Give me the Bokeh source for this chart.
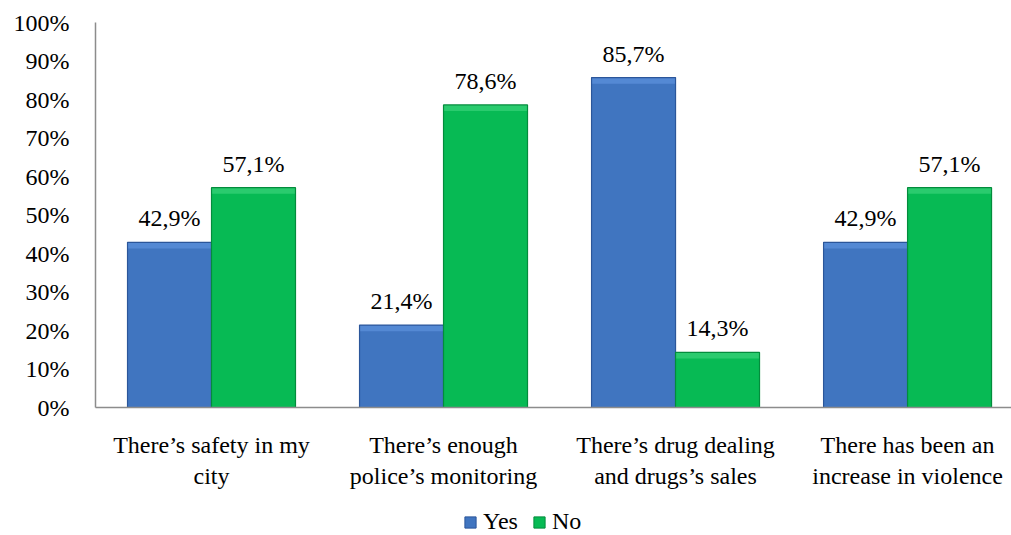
from bokeh.plotting import figure
from bokeh.layouts import column
from bokeh.models import Range1d, FixedTicker, ColumnDataSource, Legend, LegendItem, LabelSet
from bokeh.embed import file_html
from bokeh.resources import INLINE

categories = [
    "There\u2019s safety in my\ncity",
    "There\u2019s enough\npolice\u2019s monitoring",
    "There\u2019s drug dealing\nand drugs\u2019s sales",
    "There has been an\nincrease in violence",
]
series_names = ["Yes", "No"]
yes_values = [42.9, 21.4, 85.7, 42.9]
no_values = [57.1, 78.6, 14.3, 57.1]
y_ticks = [0, 10, 20, 30, 40, 50, 60, 70, 80, 90, 100]

FONT = "Liberation Serif"
BAR_W = 0.362
BEVEL = 1.6  # height of the lighter top band, in % units
YES_FILL, YES_LINE, YES_TOP = "#4075C0", "#2B569A", "#5489D4"
NO_FILL, NO_LINE, NO_TOP = "#07BA54", "#038C3C", "#2ACB6E"
centers = [i + 0.5 for i in range(len(categories))]


def fmt(v):
    return ("%.1f" % v).replace(".", ",") + "%"


def make_src(values, offset):
    return ColumnDataSource(dict(
        left=[c + offset for c in centers], right=[c + offset + BAR_W for c in centers],
        top=values, bottom=[0] * len(centers),
        band=[v - BEVEL for v in values],
        x=[c + offset + BAR_W / 2 for c in centers],
        label=[fmt(v) for v in values]))


yes_src = make_src(yes_values, -BAR_W)
no_src = make_src(no_values, 0.0)

p = figure(width=1011, height=500, output_backend="svg", toolbar_location=None,
           x_range=Range1d(0, 3.948), y_range=Range1d(0, 100),
           min_border_left=95, min_border_right=0, min_border_top=22, min_border_bottom=93)
p.outline_line_color = None
p.xgrid.visible = False
p.ygrid.visible = False

for src, fill, line, topc in ((yes_src, YES_FILL, YES_LINE, YES_TOP),
                              (no_src, NO_FILL, NO_LINE, NO_TOP)):
    p.quad(left="left", right="right", top="top", bottom="bottom", source=src,
           fill_color=fill, line_color=None)
    p.quad(left="left", right="right", top="top", bottom="band", source=src,
           fill_color=topc, line_color=None)
    p.quad(left="left", right="right", top="top", bottom="bottom", source=src,
           fill_color=None, line_color=line, line_width=1.2)
    p.add_layout(LabelSet(x="x", y="top", text="label", source=src, text_align="center",
                          text_baseline="alphabetic", y_offset=16, text_font=FONT,
                          text_font_size="24px", text_color="black"))

p.xaxis.ticker = FixedTicker(ticks=centers)
p.xaxis.major_label_overrides = {c: lab for c, lab in zip(centers, categories)}
p.xaxis.major_label_text_font = FONT
p.xaxis.major_label_text_font_size = "24px"
p.xaxis.major_label_text_color = "black"
p.xaxis.major_label_standoff = 18
p.xaxis.major_tick_line_color = None
p.xaxis.minor_tick_line_color = None
p.xaxis.axis_line_color = "#8C8C8C"
p.xaxis.axis_line_width = 1.5

p.yaxis.ticker = FixedTicker(ticks=y_ticks)
p.yaxis.major_label_overrides = {t: "%d%%" % t for t in y_ticks}
p.yaxis.major_label_text_font = FONT
p.yaxis.major_label_text_font_size = "24px"
p.yaxis.major_label_text_color = "black"
p.yaxis.major_label_standoff = 20
p.yaxis.major_tick_line_color = None
p.yaxis.minor_tick_line_color = None
p.yaxis.axis_line_color = "#8C8C8C"
p.yaxis.axis_line_width = 1.5

# legend strip below the chart (its frame is aligned with the chart's frame)
lg = figure(width=1011, height=35, output_backend="svg", toolbar_location=None,
            x_range=Range1d(0, 1), y_range=Range1d(0, 1),
            min_border_left=0, min_border_right=0, min_border_top=0, min_border_bottom=0)
lg.outline_line_color = None
lg.axis.visible = False
lg.grid.visible = False
nan = float("nan")
hidden = dict(left=[nan], right=[nan], top=[nan], bottom=[nan])
lr_yes = lg.quad(left="left", right="right", top="top", bottom="bottom",
                 source=ColumnDataSource(hidden), fill_color=YES_FILL, line_color=YES_LINE)
lr_no = lg.quad(left="left", right="right", top="top", bottom="bottom",
                source=ColumnDataSource(hidden), fill_color=NO_FILL, line_color=NO_LINE)
legend = Legend(items=[LegendItem(label=series_names[0], renderers=[lr_yes]),
                       LegendItem(label=series_names[1], renderers=[lr_no])],
                orientation="horizontal", location=(368, 0),
                label_text_font=FONT, label_text_font_size="24px", label_text_color="black",
                glyph_width=14, glyph_height=14, spacing=14, padding=0, margin=0,
                label_standoff=6, border_line_color=None, background_fill_alpha=0)
lg.add_layout(legend, "center")

open("out.html", "w").write(file_html(column(p, lg), INLINE))
